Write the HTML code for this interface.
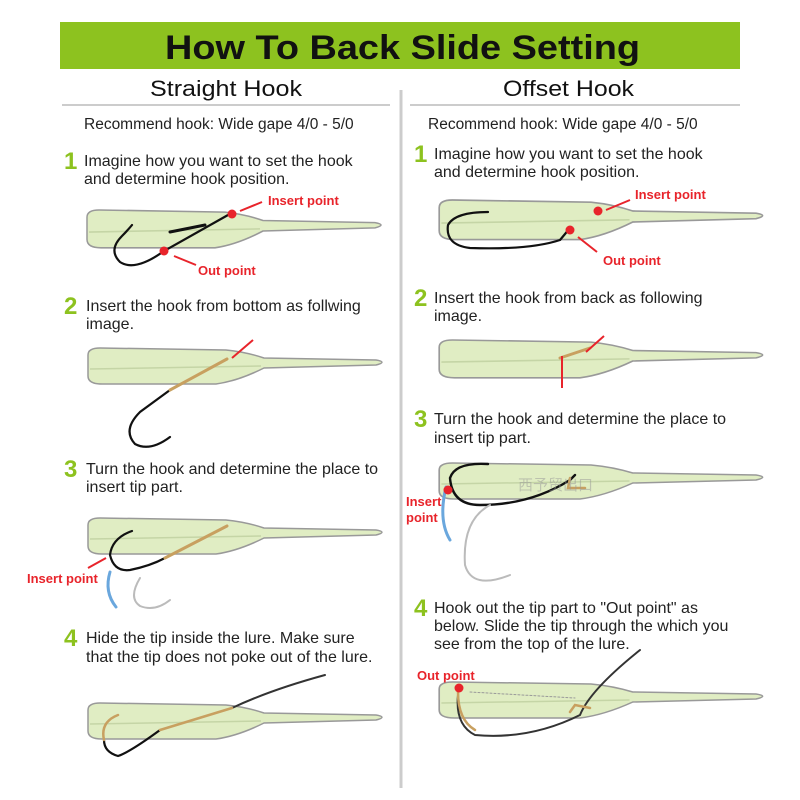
<!DOCTYPE html>
<html><head><meta charset="utf-8"><style>
body{margin:0;background:#fff;}
svg{display:block;font-family:"Liberation Sans",sans-serif;}
</style></head><body>
<svg width="800" height="800" viewBox="0 0 800 800">
<defs>
<g id="lure">
<path d="M2,7 Q2,0 14,0 L140,2 Q160,4 178,10 L290,12 Q302,14 290,17 L178,20 Q152,33 130,36 L16,36 Q2,36 2,28 Z" fill="#e0edc3" stroke="#999" stroke-width="1.5"/>
<path d="M4,21 L175,18" stroke="#c5d5a6" stroke-width="1.5" fill="none"/>
</g>
</defs>
<rect x="60" y="22" width="680" height="47" fill="#8dc21f"/>
<text x="165" y="59" textLength="475" lengthAdjust="spacingAndGlyphs" font-size="34" font-weight="bold" fill="#111">How To Back Slide Setting</text>
<text x="150" y="96" textLength="152" lengthAdjust="spacingAndGlyphs" font-size="22" fill="#111">Straight Hook</text>
<text x="503" y="96" textLength="131" lengthAdjust="spacingAndGlyphs" font-size="22" fill="#111">Offset Hook</text>
<line x1="62" y1="105" x2="390" y2="105" stroke="#bbb" stroke-width="1.5"/>
<line x1="410" y1="105" x2="740" y2="105" stroke="#bbb" stroke-width="1.5"/>
<line x1="401" y1="90" x2="401" y2="788" stroke="#ccc" stroke-width="3"/>
<g font-size="16" fill="#222">
<text x="84" y="129" font-size="15.5">Recommend hook: Wide gape 4/0 - 5/0</text>
<text x="428" y="129" font-size="15.5">Recommend hook: Wide gape 4/0 - 5/0</text>
<text x="84" y="166">Imagine how you want to set the hook</text>
<text x="84" y="184">and determine hook position.</text>
<text x="86" y="311">Insert the hook from bottom as follwing</text>
<text x="86" y="329">image.</text>
<text x="86" y="474">Turn the hook and determine the place to</text>
<text x="86" y="492">insert tip part.</text>
<text x="86" y="643">Hide the tip inside the lure. Make sure</text>
<text x="86" y="662">that the tip does not poke out of the lure.</text>
<text x="434" y="159">Imagine how you want to set the hook</text>
<text x="434" y="177">and determine hook position.</text>
<text x="434" y="303">Insert the hook from back as following</text>
<text x="434" y="321">image.</text>
<text x="434" y="424">Turn the hook and determine the place to</text>
<text x="434" y="443">insert tip part.</text>
<text x="434" y="613">Hook out the tip part to "Out point" as</text>
<text x="434" y="631">below. Slide the tip through the which you</text>
<text x="434" y="649">see from the top of the lure.</text>
</g>
<g font-size="24" font-weight="bold" fill="#8dc21f">
<text x="64" y="169">1</text><text x="64" y="314">2</text><text x="64" y="477">3</text><text x="64" y="646">4</text>
<text x="414" y="162">1</text><text x="414" y="306">2</text><text x="414" y="427">3</text><text x="414" y="616">4</text>
</g>
<use href="#lure" transform="translate(85,210) scale(1,1.05)"/>
<use href="#lure" transform="translate(86,348)"/>
<use href="#lure" transform="translate(86,518)"/>
<use href="#lure" transform="translate(86,703)"/>
<use href="#lure" transform="translate(437,200) scale(1.1,1.1)"/>
<use href="#lure" transform="translate(437,340) scale(1.1,1.05)"/>
<use href="#lure" transform="translate(437,463) scale(1.1,1.0)"/>
<use href="#lure" transform="translate(437,682) scale(1.1,1.0)"/>
<g fill="none" stroke-linecap="round">
<path d="M228,215 L164,251 Q135,272 120,262 Q108,250 122,236 Q128,230 132,225" stroke="#111" stroke-width="2.2"/>
<path d="M170,232 L205,225" stroke="#111" stroke-width="3"/>
<path d="M170,390 L140,412 Q122,430 135,444 Q150,452 170,437" stroke="#111" stroke-width="2.2"/>
<path d="M170,390 L227,359" stroke="#c8a060" stroke-width="3"/>
<path d="M132,531 Q112,538 110,555 Q114,572 130,570 Q150,566 165,558" stroke="#111" stroke-width="2.2"/>
<path d="M165,558 L227,526" stroke="#c8a060" stroke-width="3"/>
<path d="M140,578 Q128,598 140,606 Q155,612 170,600" stroke="#bbb" stroke-width="2"/>
<path d="M116,607 Q104,592 110,572" stroke="#6aa7dd" stroke-width="3"/>
<path d="M325,675 Q270,690 232,708" stroke="#333" stroke-width="2"/>
<path d="M160,730 Q130,752 118,756 Q104,752 104,740" stroke="#111" stroke-width="2.2"/>
<path d="M232,708 L160,730 M104,740 Q100,722 118,715" stroke="#c8a060" stroke-width="2.5"/>
<path d="M488,212 Q455,212 448,225 Q445,245 470,248 Q530,250 560,240 L570,228" stroke="#111" stroke-width="2.2"/>
<path d="M560,358 L590,348" stroke="#c8a060" stroke-width="3"/>
<path d="M488,464 Q455,462 450,478 Q452,505 480,505 Q530,505 570,480 L575,475" stroke="#111" stroke-width="2.4"/>
<path d="M570,478 L568,488 L585,488" stroke="#c8a060" stroke-width="2.5"/>
<path d="M490,505 Q462,520 465,565 Q472,590 510,575" stroke="#bbb" stroke-width="2"/>
<path d="M450,540 Q438,520 446,487" stroke="#6aa7dd" stroke-width="3"/>
<path d="M640,650 Q590,690 580,715 Q530,740 475,735 Q455,725 458,695" stroke="#333" stroke-width="2"/>
<path d="M458,692 Q458,720 475,730 M570,712 L575,705 L590,708" stroke="#c8a060" stroke-width="2.5"/>
<path d="M470,692 L575,698" stroke="#999" stroke-width="1" stroke-dasharray="2,2"/>
</g>
<g fill="#e8242b">
<circle cx="232" cy="214" r="4.5"/><circle cx="164" cy="251" r="4.5"/>
<circle cx="598" cy="211" r="4.5"/><circle cx="570" cy="230" r="4.5"/>
<circle cx="448" cy="490" r="4.5"/><circle cx="459" cy="688" r="4.5"/>
</g>
<g stroke="#e8242b" stroke-width="2" fill="none">
<path d="M262,202 L240,211"/><path d="M196,265 L174,256"/>
<path d="M253,340 L232,358"/><path d="M88,568 L106,558"/>
<path d="M630,200 L606,210"/><path d="M597,252 L578,237"/>
<path d="M604,336 L586,352 M562,356 L562,388"/>
</g>
<g font-size="13" font-weight="bold" fill="#e8242b">
<text x="268" y="205">Insert point</text>
<text x="198" y="275">Out point</text>
<text x="27" y="583">Insert point</text>
<text x="635" y="199">Insert point</text>
<text x="603" y="265">Out point</text>
<text x="406" y="506">Insert</text><text x="406" y="522">point</text>
<text x="417" y="680">Out point</text>
</g>
<text x="518" y="490" font-size="15" fill="#999" opacity="0.5" font-family="Noto Sans CJK SC,sans-serif">西予贸出口</text>
</svg>
</body></html>
